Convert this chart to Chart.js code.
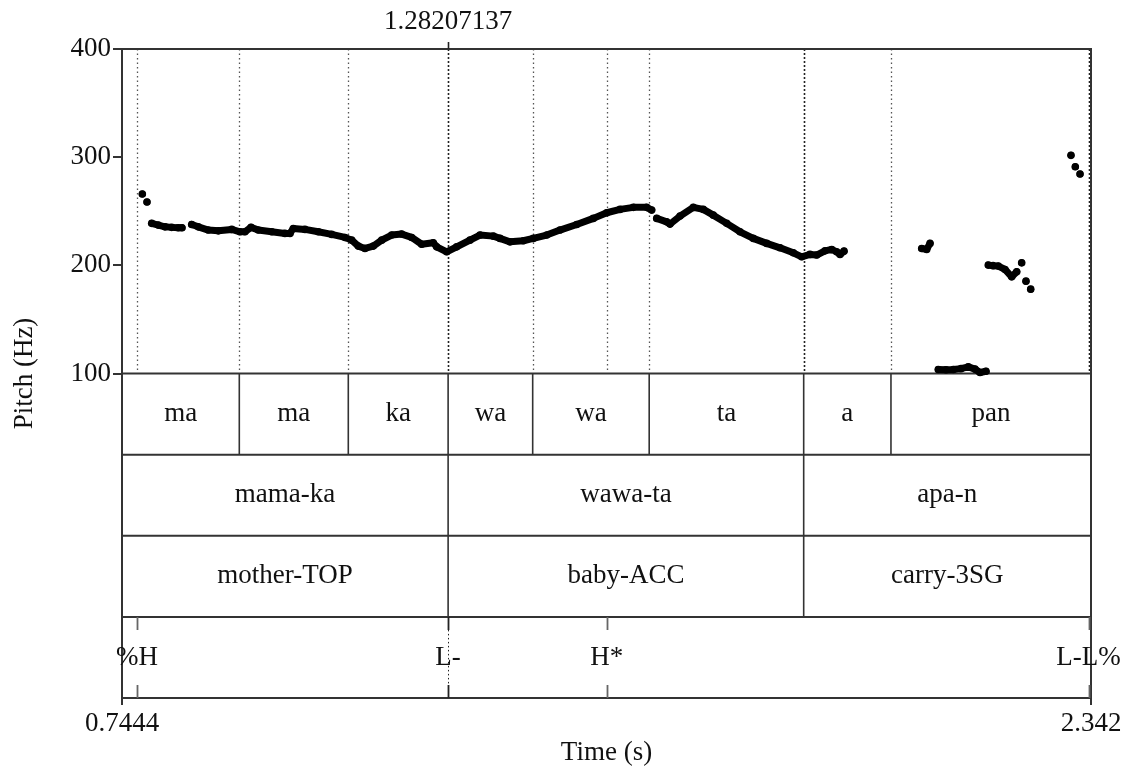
<!DOCTYPE html>
<html>
<head>
<meta charset="utf-8">
<title>Pitch track with annotation tiers</title>
<script src="https://cdn.jsdelivr.net/npm/chart.js@4.4.1/dist/chart.umd.min.js"></script>
<style>
  html, body { margin: 0; padding: 0; background: #fff; }
  #wrap { width: 1126px; height: 769px; }
</style>
</head>
<body>
<div id="wrap"><canvas id="pitchChart" width="1126" height="769"></canvas></div>
<script>
// Axes
const timeRange = [0.7444, 2.342];
const timeTicks = [0.7444, 2.342];
const timeTickLabels = ['0.7444', '2.342'];
const pitchTicks = [100, 200, 300, 400];
const pitchFloor = 100;
const pitchCeiling = 400;
const cursorTime = 1.28207137;
const cursorLabel = '1.28207137';

// Pitch track, one inner array per voiced stretch (s / Hz)
const pitchTimes = [
    [0.7779], [0.7856],
    [0.7934, 0.8042, 0.8153, 0.8263, 0.8372, 0.8433],
    [0.8593, 0.8702, 0.8867, 0.9032, 0.9253, 0.9389, 0.9472, 0.9571, 0.9691, 0.9912,
     1.0131, 1.0214, 1.0268, 1.0461, 1.0680, 1.0901, 1.1121, 1.1231, 1.1340, 1.1450,
     1.1587, 1.1726, 1.1890, 1.2055, 1.2220, 1.2385, 1.2576, 1.2632, 1.2797, 1.2962,
     1.3181, 1.3346, 1.3566, 1.3676, 1.3841, 1.4060, 1.4225, 1.4446, 1.4665, 1.4941,
     1.5215, 1.5436, 1.5655, 1.5874, 1.6095, 1.6177],
    [1.6260, 1.6424, 1.6479, 1.6644, 1.6863, 1.7028, 1.7193, 1.7414, 1.7633, 1.7852,
     1.8073, 1.8293, 1.8512, 1.8650, 1.8787, 1.8897, 1.9034, 1.9145, 1.9227, 1.9282, 1.9348],
    [2.0629, 2.0711, 2.0766],
    [2.0902, 2.1029, 2.1150, 2.1277, 2.1397, 2.1508, 2.1590, 2.1689],
    [2.1727, 2.1805, 2.1892, 2.2002, 2.2113, 2.2195],
    [2.2277], [2.2348], [2.2426],
    [2.3090], [2.3161], [2.3239]
];
const pitchHz = [
    [265.9], [258.5],
    [238.8, 237.2, 235.6, 235.1, 234.7, 234.7],
    [237.8, 235.6, 232.6, 231.9, 233.2, 231.0, 231.0, 235.1, 232.6, 231.0,
     229.5, 229.5, 234.1, 233.2, 231.0, 228.6, 225.8, 223.3, 217.8, 215.6,
     217.8, 223.3, 228.0, 228.9, 225.8, 219.5, 220.8, 217.1, 212.5, 217.1,
     223.3, 228.0, 227.0, 224.9, 221.7, 222.7, 224.9, 228.0, 232.6, 237.8,
     243.4, 248.6, 251.7, 253.6, 253.6, 251.1],
    [243.4, 240.2, 238.1, 245.5, 253.6, 251.7, 246.4, 238.8, 231.0, 224.9,
     220.3, 216.2, 211.6, 207.9, 210.1, 209.5, 213.4, 214.7, 212.5, 210.1, 213.1],
    [215.6, 214.7, 220.3],
    [103.7, 103.5, 103.7, 104.5, 106.1, 104.0, 100.9, 102.1],
    [200.2, 199.7, 199.3, 196.2, 189.4, 194.0],
    [202.3], [185.4], [178.0],
    [301.7], [291.1], [284.4]
];

// Annotation tiers
const syllableBounds = [0.7444, 0.9378, 1.1175, 1.28207137, 1.4215, 1.6136, 1.8683, 2.0122, 2.342];
const syllables = ['ma', 'ma', 'ka', 'wa', 'wa', 'ta', 'a', 'pan'];
const wordBounds = [0.7444, 1.28207137, 1.8683, 2.342];
const words = ['mama-ka', 'wawa-ta', 'apa-n'];
const glosses = ['mother-TOP', 'baby-ACC', 'carry-3SG'];
const tonePoints = [0.7691, 1.28207137, 1.5435, 2.3379];
const tones = ['%H', 'L-', 'H*', 'L-L%'];

const serif = "'Liberation Serif', 'Times New Roman', serif";
const fontSize = 27;
const lineColor = '#333';

// flatten stretches, a null between them breaks the line
const trackData = [];
pitchTimes.forEach((seg, i) => {
    seg.forEach((t, j) => trackData.push({ x: t, y: pitchHz[i][j] }));
    trackData.push({ x: seg[seg.length - 1], y: null });
});

const tierPlugin = {
    id: 'tiers',
    beforeDatasetsDraw(chart) {
        const { ctx, chartArea: a, scales: { x, y } } = chart;
        const px = t => x.getPixelForValue(t);
        const yFloor = y.getPixelForValue(pitchFloor);
        const tierH = (a.bottom - yFloor) / 4;
        const rowTop = k => yFloor + k * tierH;

        ctx.save();

        // dotted guides over the pitch panel
        const guides = new Set([...syllableBounds.slice(1, -1), ...tonePoints]);
        guides.forEach(t => {
            const major = wordBounds.includes(t) || t === tonePoints[tonePoints.length - 1];
            ctx.strokeStyle = major ? '#222' : '#555';
            ctx.lineWidth = major ? 1.6 : 1.3;
            ctx.setLineDash(major ? [2, 2] : [1.5, 3]);
            ctx.beginPath();
            ctx.moveTo(Math.round(px(t)) + 0.5, a.top);
            ctx.lineTo(Math.round(px(t)) + 0.5, yFloor);
            ctx.stroke();
        });
        ctx.setLineDash([]);

        // frame and tier rows
        ctx.strokeStyle = lineColor;
        ctx.lineWidth = 2;
        ctx.beginPath();
        ctx.moveTo(a.left, a.top);
        ctx.lineTo(a.right, a.top);
        ctx.lineTo(a.right, a.bottom);
        for (let k = 0; k < 4; k++) {
            ctx.moveTo(a.left, rowTop(k));
            ctx.lineTo(a.right, rowTop(k));
        }
        ctx.stroke();

        ctx.font = fontSize + 'px ' + serif;
        ctx.fillStyle = '#111';
        ctx.textAlign = 'center';
        ctx.textBaseline = 'middle';

        // interval tiers
        const intervalTier = (bounds, labels, row) => {
            ctx.strokeStyle = lineColor;
            ctx.lineWidth = 1.6;
            ctx.beginPath();
            bounds.slice(1, -1).forEach(t => {
                ctx.moveTo(px(t), rowTop(row));
                ctx.lineTo(px(t), rowTop(row + 1));
            });
            ctx.stroke();
            labels.forEach((lab, i) => {
                const cx = (px(bounds[i]) + px(bounds[i + 1])) / 2;
                ctx.fillText(lab, cx, rowTop(row) + tierH / 2);
            });
        };
        intervalTier(syllableBounds, syllables, 0);
        intervalTier(wordBounds, words, 1);
        intervalTier(wordBounds, glosses, 2);

        // point tier: short ticks at each tone, label on the point
        const top = rowTop(3), bot = a.bottom;
        tonePoints.forEach((t, i) => {
            const xp = Math.round(px(t)) + 0.5;
            const onBoundary = wordBounds.includes(t);
            ctx.strokeStyle = onBoundary ? '#222' : '#666';
            ctx.lineWidth = 1.8;
            ctx.beginPath();
            ctx.moveTo(xp, top); ctx.lineTo(xp, top + 13);
            ctx.moveTo(xp, bot - 13); ctx.lineTo(xp, bot);
            ctx.stroke();
            if (onBoundary) {
                ctx.lineWidth = 1;
                ctx.setLineDash([1.5, 2.5]);
                ctx.beginPath();
                ctx.moveTo(xp, top + 13); ctx.lineTo(xp, bot - 13);
                ctx.stroke();
                ctx.setLineDash([]);
            }
            ctx.fillText(tones[i], px(t), top + tierH / 2);
        });

        // time cursor readout above the panel
        const cx = Math.round(px(cursorTime)) + 0.5;
        ctx.strokeStyle = '#222';
        ctx.lineWidth = 1.6;
        ctx.beginPath();
        ctx.moveTo(cx, a.top - 7);
        ctx.lineTo(cx, a.top);
        ctx.stroke();
        ctx.fillText(cursorLabel, px(cursorTime), 22);

        ctx.restore();
    }
};

new Chart(document.getElementById('pitchChart'), {
    type: 'line',
    data: {
        datasets: [{
            label: 'Pitch',
            data: trackData,
            borderColor: '#000',
            borderWidth: 7,
            borderCapStyle: 'round',
            borderJoinStyle: 'round',
            pointRadius: 3.8,
            pointBackgroundColor: '#000',
            pointBorderWidth: 0,
            spanGaps: false,
            tension: 0
        }]
    },
    options: {
        responsive: false,
        animation: false,
        devicePixelRatio: 1,
        layout: { padding: { top: 49, right: 35, left: 0, bottom: 0 } },
        plugins: {
            legend: { display: false },
            tooltip: { enabled: false }
        },
        scales: {
            x: {
                type: 'linear',
                min: timeRange[0],
                max: timeRange[1],
                afterBuildTicks: s => { s.ticks = timeTicks.map(v => ({ value: v })); },
                afterFit: s => { s.height = 71; },
                ticks: {
                    autoSkip: false,
                    maxRotation: 0,
                    padding: 3,
                    color: '#111',
                    font: { family: serif, size: fontSize },
                    callback: (v, i) => timeTickLabels[i]
                },
                grid: { drawOnChartArea: false, tickLength: 7, color: lineColor, lineWidth: 2 },
                border: { color: lineColor, width: 2 },
                title: {
                    display: true,
                    text: 'Time (s)',
                    color: '#111',
                    font: { family: serif, size: fontSize },
                    padding: { top: 0, bottom: 0 }
                }
            },
            y: {
                min: -200,
                max: pitchCeiling,
                afterBuildTicks: s => { s.ticks = pitchTicks.map(v => ({ value: v })); },
                afterFit: s => { s.width = 122; },
                ticks: {
                    padding: 2,
                    color: '#111',
                    font: { family: serif, size: fontSize },
                    callback: v => String(v)
                },
                grid: { drawOnChartArea: false, tickLength: 9, color: lineColor, lineWidth: 2 },
                border: { color: lineColor, width: 2 },
                title: {
                    display: true,
                    text: 'Pitch (Hz)',
                    color: '#111',
                    font: { family: serif, size: fontSize },
                    padding: { top: 9, bottom: 0 }
                }
            }
        }
    },
    plugins: [tierPlugin]
});
</script>
</body>
</html>
